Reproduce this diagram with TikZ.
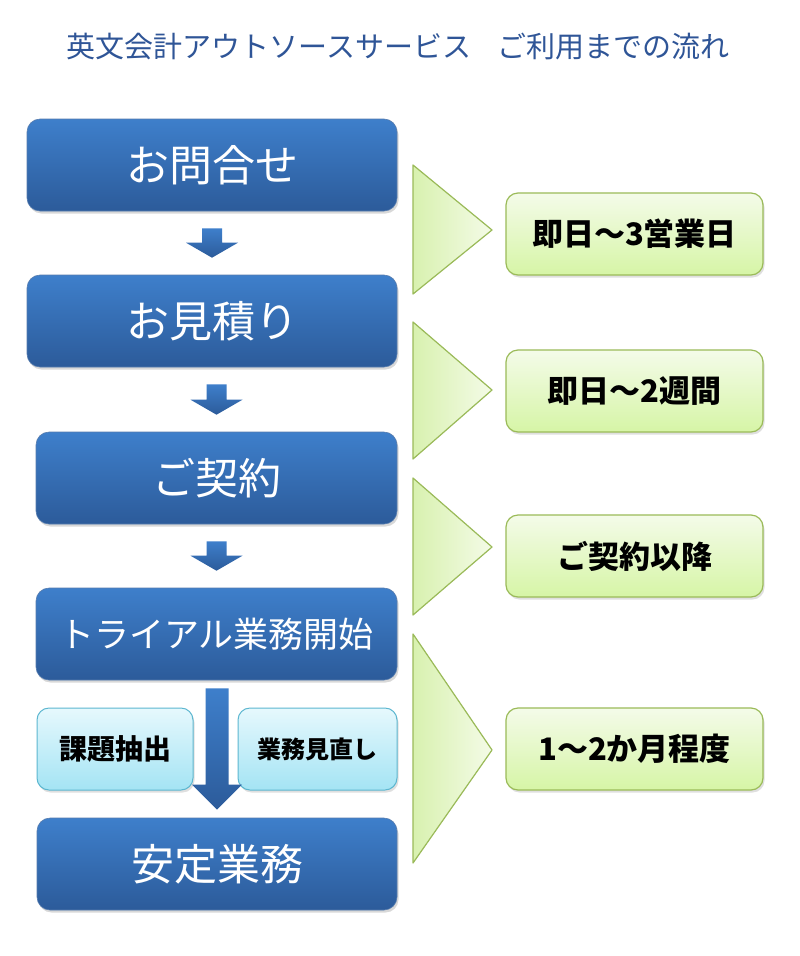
\documentclass[tikz,border=0pt]{standalone}
\usepackage{fontspec}
\setmainfont{Noto Sans CJK JP}
\usetikzlibrary{calc,shadows,positioning}

\definecolor{titleblue}{RGB}{47,85,151}
\definecolor{bluetop}{RGB}{62,127,203}
\definecolor{bluebot}{RGB}{44,91,154}
\definecolor{greentop}{RGB}{244,251,233}
\definecolor{greenbot}{RGB}{214,245,166}
\definecolor{greenline}{RGB}{155,187,89}
\definecolor{trileft}{RGB}{216,241,175}
\definecolor{triright}{RGB}{244,251,231}
\definecolor{cyantop}{RGB}{230,248,253}
\definecolor{cyanbot}{RGB}{164,228,244}
\definecolor{cyanline}{RGB}{93,183,208}

% block arrow: from node, to node, gap, head length, shaft half width, head half width
\newcommand\flowarrow[6]{%
  \path[arrowbody]
    ($(#2.north |- #1.south)+(-#5,#3)$) -- ($(#2.north |- #1.south)+(#5,#3)$)
    -- ($(#2.north)+(#5,-#3-#4)$) -- ($(#2.north)+(#6,-#3-#4)$)
    -- ($(#2.north)+(0,-#3)$)
    -- ($(#2.north)+(-#6,-#3-#4)$) -- ($(#2.north)+(-#5,-#3-#4)$) -- cycle;}

\begin{document}
\begin{tikzpicture}
  [x=1pt,y=-1pt,
   flowbox/.style={rectangle,rounded corners=13pt,top color=bluetop,bottom color=bluebot,
                   draw=bluebot!80,line width=0.6pt,text=white,inner sep=0pt,
                   minimum height=92pt,font=\fontsize{43}{43}\selectfont,
                   drop shadow={shadow xshift=1.5pt,shadow yshift=-2.5pt,opacity=.3}},
   timebox/.style={rectangle,rounded corners=12pt,top color=greentop,bottom color=greenbot,
                   draw=greenline,line width=1.2pt,inner sep=0pt,
                   minimum width=257pt,minimum height=82pt,
                   font=\bfseries\fontsize{31}{31}\selectfont,
                   drop shadow={shadow xshift=1.5pt,shadow yshift=-2.5pt,opacity=.25}},
   subbox/.style={rectangle,rounded corners=12pt,top color=cyantop,bottom color=cyanbot,
                  draw=cyanline,line width=1pt,inner sep=0pt,minimum height=82pt,
                  drop shadow={shadow xshift=1.5pt,shadow yshift=-2.5pt,opacity=.25}},
   pointer/.style={left color=trileft,right color=triright,draw=greenline,line width=1.2pt,
                   line join=round},
   arrowbody/.style={top color=bluetop,bottom color=bluebot}]
  \useasboundingbox[fill=white] (0,0) rectangle (800,956);

  \node (title) at (398,47) [text=titleblue,font=\fontsize{29}{29}\selectfont]
    {英文会計アウトソースサービス\hspace{0.9em}ご利用までの流れ};

  % main flow
  \node (ask)      at (212,165)   [flowbox,minimum width=370pt] {お問合せ};
  \node (quote)    at (212,321)   [flowbox,minimum width=370pt] {お見積り};
  \node (contract) at (216.5,478) [flowbox,minimum width=361pt] {ご契約};
  \node (trial)    at (216.5,634) [flowbox,minimum width=361pt,
                                   font=\fontsize{35}{35}\selectfont] {トライアル業務開始};
  \node (stable)   at (217,864)   [flowbox,minimum width=360pt] {安定業務};

  \node (issues) at (115,749)   [subbox,minimum width=156pt,
                                 font=\bfseries\fontsize{28}{28}\selectfont] {課題抽出};
  \node (review) at (317.5,749) [subbox,minimum width=159pt,
                                 font=\bfseries\fontsize{24}{24}\selectfont] {業務見直し};

  \flowarrow{ask}{quote}{17}{15}{10}{26}
  \flowarrow{quote}{contract}{17}{15}{10}{26}
  \flowarrow{contract}{trial}{17}{15}{10}{26}
  \flowarrow{trial}{stable}{8}{25}{11.5}{25}

  % periods
  \filldraw[pointer] (413,165) -- (492,230) -- (413,294) -- cycle;
  \filldraw[pointer] (413,322) -- (492,390) -- (413,459) -- cycle;
  \filldraw[pointer] (413,478) -- (492,547) -- (413,615) -- cycle;
  \filldraw[pointer] (413,634) -- (492,750) -- (413,863) -- cycle;

  \node (days)   at (634.5,234) [timebox] {即日～3営業日};
  \node (weeks)  at (634.5,391) [timebox] {即日～2週間};
  \node (after)  at (634.5,556) [timebox] {ご契約以降};
  \node (months) at (634.5,749) [timebox] {1～2か月程度};
\end{tikzpicture}
\end{document}
